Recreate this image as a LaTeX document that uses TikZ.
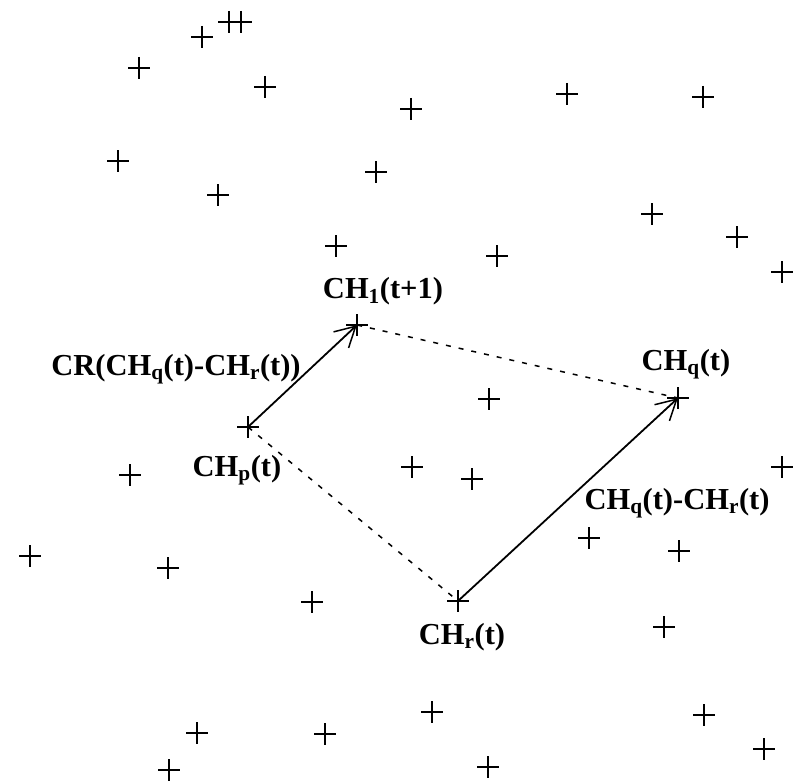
\documentclass[tikz,border=0pt]{standalone}
\usepackage{fontspec}
\setmainfont{Liberation Serif}
\usetikzlibrary{arrows.meta}
\tikzset{
  pt/.style={inner sep=0pt, minimum size=0pt},
  plusmark/.pic={\draw[line width=2pt] (-11,0) -- (11,0) (0,-11) -- (0,11);},
  lbl/.style={font=\fontsize{30.5}{32}\selectfont\bfseries, inner sep=0pt},
  vec/.style={line width=1.8pt, -{Straight Barb[length=20pt,width=22pt,line width=1.5pt]}},
  dashline/.style={line width=1.5pt, dash pattern=on 5pt off 8pt}
}
\begin{document}
\begin{tikzpicture}[x=1pt,y=-1pt]
\useasboundingbox (0,0) rectangle (793,784);
% scattered points
\foreach \x/\y in {202/37,229/22,241/22,139/68,265/87,411/109,567/94,703/97,
  118/161,376/172,218/195,652/214,336/246,497/256,737/237,782/272,489/399,
  130/475,412/467,472/479,782/467,30/556,168/568,589/538,679/551,312/602,
  664/627,432/712,197/733,325/734,704/715,169/770,488/767,764/749}
  \pic at (\x,\y) {plusmark};
% main points
\node[pt] (c1) at (357,325) {};
\node[pt] (cq) at (678,398) {};
\node[pt] (cp) at (248,427) {};
\node[pt] (cr) at (458,601) {};
\foreach \n in {c1,cq,cp,cr} \pic at (\n) {plusmark};
% connectors
\draw[vec] (cp) -- (c1);
\draw[vec] (cr) -- (cq);
\draw[dashline] (c1) -- (cq);
\draw[dashline] (cp) -- (cr);
% labels
\node[lbl] (l1) at (383,291) {CH\textsubscript{1}(t+1)};
\node[lbl] (l2) at (176,369) {CR(CH\textsubscript{q}(t)-CH\textsubscript{r}(t))};
\node[lbl] (l3) at (237,470) {CH\textsubscript{p}(t)};
\node[lbl] (l4) at (686,364) {CH\textsubscript{q}(t)};
\node[lbl] (l5) at (677,503) {CH\textsubscript{q}(t)-CH\textsubscript{r}(t)};
\node[lbl] (l6) at (462,637) {CH\textsubscript{r}(t)};
\end{tikzpicture}
\end{document}
